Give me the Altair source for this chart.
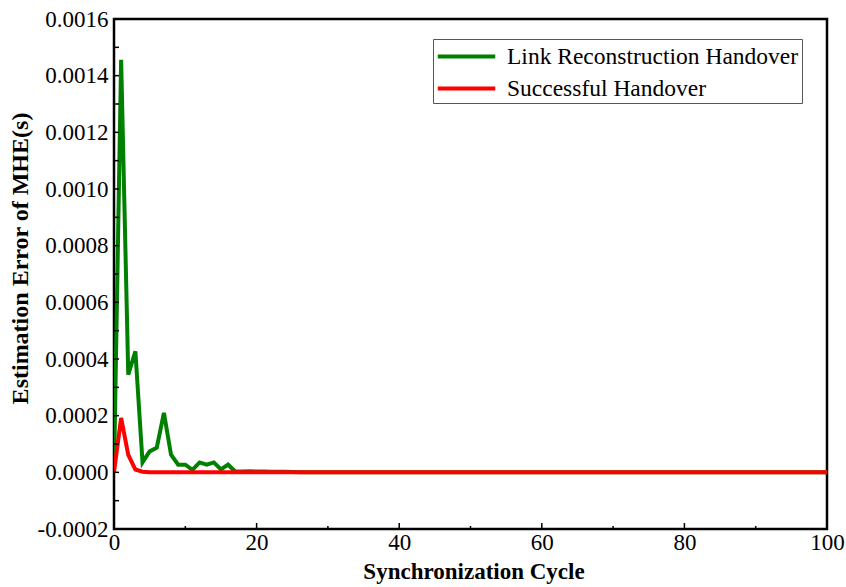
import altair as alt
import pandas as pd

cycles = list(range(0, 101))

link_head = [0.0, 0.001456, 0.000345, 0.000427, 0.000035, 0.000074, 0.000087, 0.00021,
             0.000062, 0.000027, 0.000027, 0.000009, 0.000035, 0.000027, 0.000035,
             0.00001, 0.000027, 0.000003, 0.000003, 0.000004, 0.000003, 0.000003,
             0.000002, 0.000002, 0.000002, 0.000001]
link_err = link_head + [0.0] * (101 - len(link_head))

succ_head = [0.0, 0.000192, 0.000062, 0.00001, 0.000002]
succ_err = succ_head + [0.0] * (101 - len(succ_head))

series_names = ["Link Reconstruction Handover", "Successful Handover"]
series_colors = ["#008000", "#ff0000"]

y_ticks = [-0.0002, 0.0, 0.0002, 0.0004, 0.0006, 0.0008, 0.0010, 0.0012, 0.0014, 0.0016]
y_minor = [-0.0001, 0.0001, 0.0003, 0.0005, 0.0007, 0.0009, 0.0011, 0.0013, 0.0015]
x_ticks = [0, 20, 40, 60, 80, 100]
x_minor = [10, 30, 50, 70, 90]

rows = []
for name, vals in zip(series_names, [link_err, succ_err]):
    for c, v in zip(cycles, vals):
        rows.append({"cycle": c, "err": v, "series": name})
df = pd.DataFrame(rows)

FONT = "Liberation Serif"
W, H = 713, 510

xscale = alt.Scale(domain=[0, 100], nice=False, zero=False)
yscale = alt.Scale(domain=[-0.0002, 0.0016], nice=False, zero=False)

lines = alt.Chart(df).mark_line(strokeWidth=4, clip=True).encode(
    x=alt.X("cycle:Q", scale=xscale,
            axis=alt.Axis(values=x_ticks, title="Synchronization Cycle", format="d",
                          domain=False, ticks=False, grid=False,
                          labelFont=FONT, labelFontSize=23, labelColor="black",
                          labelPadding=2, labelFlush=False,
                          titleFont=FONT, titleFontSize=23, titleFontWeight="bold",
                          titleColor="black", titleX=W / 2 + 3, titleY=49,
                          titleAlign="center", titleBaseline="alphabetic")),
    y=alt.Y("err:Q", scale=yscale,
            axis=alt.Axis(values=y_ticks, title="Estimation Error of MHE(s)",
                          labelExpr="datum.value < 0 ? '-' + format(-datum.value, '.4f') : format(datum.value, '.4f')",
                          domain=False, ticks=False, grid=False,
                          labelFont=FONT, labelFontSize=23, labelColor="black",
                          labelPadding=6, labelFlush=False,
                          titleFont=FONT, titleFontSize=24, titleFontWeight="bold",
                          titleColor="black", titleX=-94, titleY=239, titleAngle=270,
                          titleAlign="center", titleBaseline="middle")),
    color=alt.Color("series:N",
                    scale=alt.Scale(domain=series_names, range=series_colors),
                    sort=series_names,
                    legend=alt.Legend(title=None, orient="none", legendX=319, legendY=20,
                                      symbolType="M-2.3,0H2.3", symbolStrokeWidth=4,
                                      symbolSize=625, symbolOffset=16,
                                      labelFont=FONT, labelFontSize=23.5,
                                      labelColor="black", strokeColor="#555555",
                                      padding=3, rowPadding=6, labelOffset=26,
                                      labelLimit=0, fillColor="white")),
    order=alt.Order("series:N", sort="ascending"),
)

ytick_df = pd.DataFrame({"v": y_ticks + y_minor})

yticks = alt.Chart(ytick_df).mark_rule(color="black", strokeWidth=1.5).encode(
    y=alt.Y("v:Q", scale=yscale),
    x=alt.value(0),
    x2=alt.value(5),
)
xticks_major = alt.Chart(pd.DataFrame({"v": x_ticks})).mark_rule(color="black", strokeWidth=1.5).encode(
    x=alt.X("v:Q", scale=xscale),
    y=alt.value(H),
    y2=alt.value(H - 6),
)
xticks_minor = alt.Chart(pd.DataFrame({"v": x_minor})).mark_rule(color="black", strokeWidth=1.5).encode(
    x=alt.X("v:Q", scale=xscale),
    y=alt.value(H),
    y2=alt.value(H - 3),
)

chart = alt.layer(lines, yticks, xticks_major, xticks_minor).properties(
    width=W, height=H,
    autosize=alt.AutoSizeParams(type="none"),
    padding={"left": 114, "top": 19, "right": 19, "bottom": 58},
    background="white",
).configure(font=FONT).configure_axis(labelFont=FONT, titleFont=FONT).configure_legend(
    labelFont=FONT
).configure_view(stroke="black", strokeWidth=2.5)

chart.save("out.html", embed_options={"renderer": "svg", "actions": False})
